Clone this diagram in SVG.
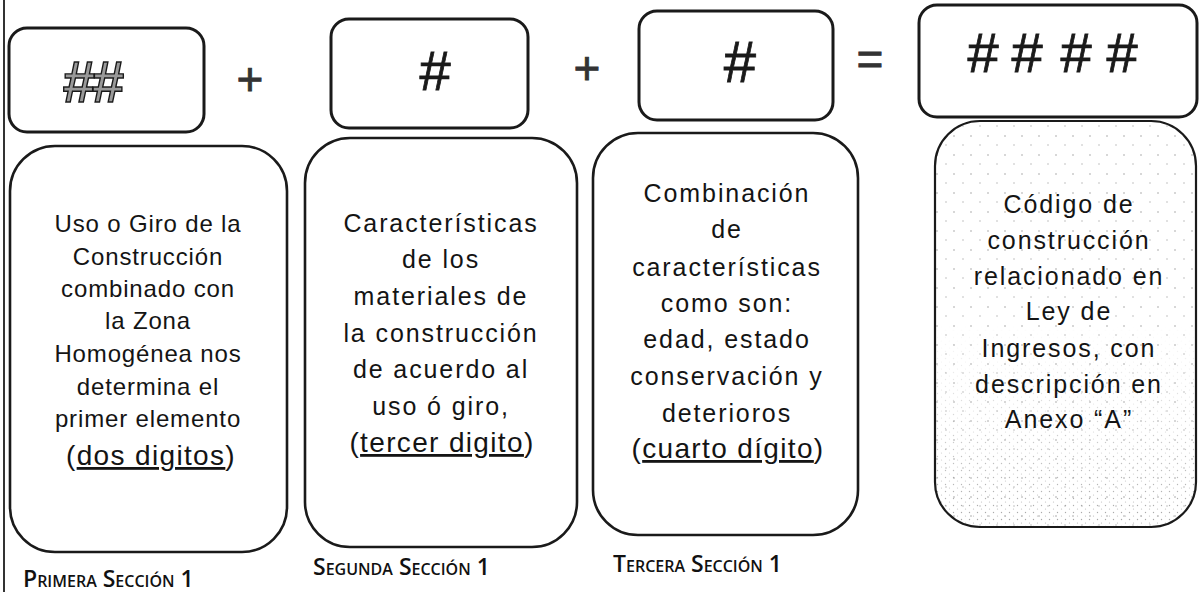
<svg xmlns="http://www.w3.org/2000/svg" width="1201" height="592" viewBox="0 0 1201 592">
<defs>
  <style>
    .box{fill:none;stroke:#1a1a1a;stroke-width:3;}
    .big{fill:#fff;stroke:#1a1a1a;stroke-width:2.6;}
    .t{font-family:"Liberation Sans",Arial,sans-serif;fill:#141414;text-anchor:middle;}
    .a{font-size:24px;letter-spacing:0.85px;}
    .b{font-size:25px;letter-spacing:1.9px;}
    .k{font-size:28px;letter-spacing:1.35px;}
    .u{text-decoration:underline;}
    .hash{font-family:"Liberation Sans",Arial,sans-serif;font-size:56px;fill:#1a1a1a;stroke:#1a1a1a;stroke-width:0.8;text-anchor:middle;}
    .op{font-family:"Liberation Sans",Arial,sans-serif;font-size:46px;fill:#333;stroke:#333;stroke-width:0.8;text-anchor:middle;}
    .lbl{font-family:"Open Sans","Lato",sans-serif;font-weight:600;font-size:23px;font-variant:small-caps;fill:#111;}
  </style>
  <pattern id="dots" width="17" height="19" patternUnits="userSpaceOnUse">
    <circle cx="2" cy="3" r="0.75" fill="#9a9a9a"/>
    <circle cx="11" cy="12" r="0.7" fill="#aaa"/>
  </pattern>
  <pattern id="dots2" width="8" height="7" patternUnits="userSpaceOnUse">
    <circle cx="1.5" cy="1.5" r="0.7" fill="#9a9a9a"/>
    <circle cx="5.5" cy="5" r="0.6" fill="#aaa"/>
  </pattern>
  <linearGradient id="fade" x1="0" y1="0" x2="0" y2="1">
    <stop offset="0.5" stop-color="#fff" stop-opacity="0"/>
    <stop offset="1" stop-color="#fff" stop-opacity="0.9"/>
  </linearGradient>
  <mask id="bottomMask">
    <rect x="935" y="121" width="261" height="406" fill="url(#fade)"/>
  </mask>
</defs>
<rect x="0" y="0" width="1201" height="592" fill="#fff"/>
<line x1="4" y1="0" x2="4" y2="592" stroke="#333" stroke-width="2"/>

<g id="top1">
  <rect class="box" x="9" y="28" width="195" height="104" rx="18"/>
  <text class="hash" x="92" y="102" style="font-size:58px;fill:#999;stroke:#1a1a1a;stroke-width:1.4;font-weight:bold;letter-spacing:-3px">##</text>
</g>
<g id="top2">
  <rect class="box" x="331" y="19" width="197" height="109" rx="18"/>
  <text class="hash" x="435" y="90">#</text>
</g>
<g id="top3">
  <rect class="box" x="639" y="11" width="194" height="109" rx="18"/>
  <text class="hash" x="740" y="82" style="font-size:58px">#</text>
</g>
<g id="top4">
  <rect class="box" x="919" y="5" width="278" height="112" rx="18"/>
  <text class="hash" x="983 1027 1076 1122" y="72" style="font-size:56px">####</text>
</g>

<g id="operators">
  <text class="op" x="250" y="95">+</text>
  <text class="op" x="587" y="84">+</text>
  <text class="op" x="870" y="75">=</text>
</g>

<g id="box1">
  <rect class="big" x="10" y="146" width="277" height="406" rx="45"/>
  <text class="t a" x="148" y="232">Uso o Giro de la</text>
  <text class="t a" x="148" y="265">Construcción</text>
  <text class="t a" x="148" y="297">combinado con</text>
  <text class="t a" x="148" y="329">la Zona</text>
  <text class="t a" x="148" y="362">Homogénea nos</text>
  <text class="t a" x="148" y="395">determina el</text>
  <text class="t a" x="148" y="427">primer elemento</text>
  <text class="t k" x="151" y="465">(<tspan class="u">dos digitos</tspan>)</text>
</g>
<g id="box2">
  <rect class="big" x="305" y="138" width="272" height="409" rx="45"/>
  <text class="t b" x="441" y="232">Características</text>
  <text class="t b" x="441" y="268">de los</text>
  <text class="t b" x="441" y="305">materiales de</text>
  <text class="t b" x="441" y="342">la construcción</text>
  <text class="t b" x="441" y="378">de acuerdo al</text>
  <text class="t b" x="441" y="415">uso ó giro,</text>
  <text class="t k" x="442" y="452">(<tspan class="u">tercer digito</tspan>)</text>
</g>
<g id="box3">
  <rect class="big" x="593" y="133" width="265" height="402" rx="45"/>
  <text class="t b" x="727" y="202">Combinación</text>
  <text class="t b" x="727" y="238">de</text>
  <text class="t b" x="727" y="276">características</text>
  <text class="t b" x="727" y="312">como son:</text>
  <text class="t b" x="727" y="348">edad, estado</text>
  <text class="t b" x="727" y="385">conservación y</text>
  <text class="t b" x="727" y="422">deterioros</text>
  <text class="t k" x="728" y="458">(<tspan class="u">cuarto dígito</tspan>)</text>
</g>
<g id="box4">
  <rect x="935" y="121" width="261" height="406" rx="45" fill="url(#dots)"/>
  <rect x="935" y="121" width="261" height="406" rx="45" fill="url(#dots2)" mask="url(#bottomMask)"/>
  <rect x="935" y="121" width="261" height="406" rx="45" fill="none" stroke="#1a1a1a" stroke-width="2.2"/>
  <text class="t b" x="1069" y="213">Código de</text>
  <text class="t b" x="1069" y="249">construcción</text>
  <text class="t b" x="1069" y="285">relacionado en</text>
  <text class="t b" x="1069" y="320">Ley de</text>
  <text class="t b" x="1069" y="357">Ingresos, con</text>
  <text class="t b" x="1069" y="393">descripción en</text>
  <text class="t b" x="1069" y="428">Anexo “A”</text>
</g>

<g id="labels">
  <text class="lbl" x="23" y="587">Primera Sección 1</text>
  <text class="lbl" x="313" y="575">Segunda Sección 1</text>
  <text class="lbl" x="613" y="572">Tercera Sección 1</text>
</g>
</svg>
